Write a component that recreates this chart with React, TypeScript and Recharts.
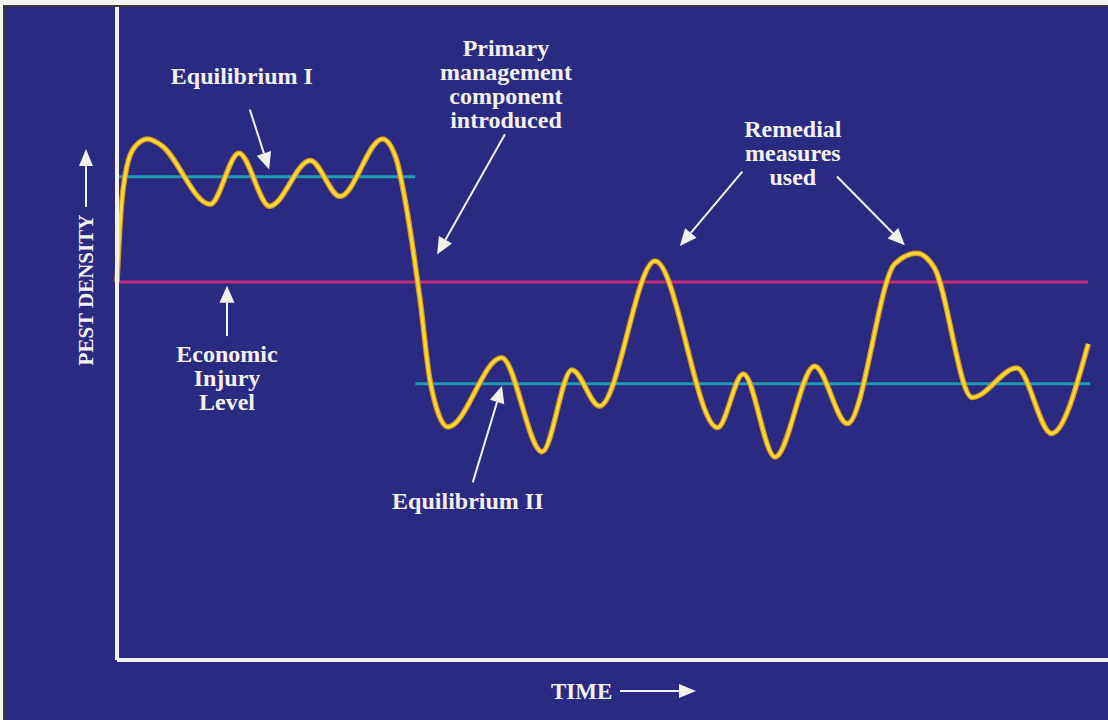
import React from "react";
import {
  ComposedChart,
  Line,
  XAxis,
  YAxis,
  ReferenceLine,
  ReferenceDot,
  Label,
} from "recharts";

// ---- data (time: 0-100, pest density: 0-100) ----
const TIME = [
  0, 0.4, 1.0, 1.8, 3.1, 4.4, 9.4, 12.3, 15.4, 19.5, 22.5, 26.8, 28.1, 29.1,
  29.9, 30.6, 31.6, 33.4, 38.8, 42.9, 45.9, 48.7, 54.3, 60.6, 63.2, 66.4, 70.4,
  73.7, 78.5, 80.7, 82.5, 86.3, 90.8, 94.3, 98.0,
];
const DENSITY = [
  57.9, 68.7, 75.6, 78.6, 79.8, 78.9, 69.8, 77.6, 69.5, 76.5, 71.0, 79.8, 77.1,
  70.2, 62.6, 55.0, 42.7, 35.7, 46.3, 31.9, 44.4, 38.9, 61.1, 35.6, 43.8, 31.1,
  45.0, 36.2, 60.7, 62.3, 60.0, 40.2, 44.7, 34.7, 48.4,
];

const EQ1_TIME = [0, 30.1];
const EQ1_LEVEL = 74;
const EQ2_TIME = [30.1, 98.2];
const EQ2_LEVEL = 42.3;
const EIL_TIME = [0, 98.0];
const EIL_LEVEL = 57.9;

const pestData = TIME.map((t, i) => ({ t, d: DENSITY[i] }));
const eq1Data = EQ1_TIME.map((t) => ({ t, d: EQ1_LEVEL }));
const eq2Data = EQ2_TIME.map((t) => ({ t, d: EQ2_LEVEL }));
const eilData = EIL_TIME.map((t) => ({ t, d: EIL_LEVEL }));

// annotations: [time, density, lines]
const NOTES: { t: number; d: number; lines: string[] }[] = [
  { t: 12.6, d: 88.2, lines: ["Equilibrium I"] },
  { t: 39.25, d: 92.5, lines: ["Primary", "management", "component", "introduced"] },
  { t: 68.2, d: 80.15, lines: ["Remedial", "measures", "used"] },
  { t: 11.1, d: 45.65, lines: ["Economic", "Injury", "Level"] },
  { t: 35.4, d: 23.2, lines: ["Equilibrium II"] },
];

// arrows: from (t,d) to tip (t,d)
const ARROWS: [number, number, number, number][] = [
  [13.4, 84.3, 15.35, 75.1],
  [11.1, 49.6, 11.1, 57.3],
  [39.15, 80.5, 32.3, 62.1],
  [63.1, 74.8, 56.8, 63.4],
  [72.65, 74.05, 79.5, 63.5],
  [35.9, 27.2, 38.85, 42.0],
];

const WHITE = "#f3f1ec";
const FONT = "'Liberation Serif', 'Times New Roman', serif";

const arrowShape = (p: any) => {
  const { x1, y1, x2, y2 } = p;
  const dx = x2 - x1;
  const dy = y2 - y1;
  const len = Math.sqrt(dx * dx + dy * dy) || 1;
  const ux = dx / len;
  const uy = dy / len;
  const hl = 17;
  const hw = 7.5;
  const bx = x2 - ux * hl;
  const by = y2 - uy * hl;
  const pts = `${x2},${y2} ${bx - uy * hw},${by + ux * hw} ${bx + uy * hw},${by - ux * hw}`;
  return (
    <g>
      <line x1={x1} y1={y1} x2={bx} y2={by} stroke={WHITE} strokeWidth={2} />
      <polygon points={pts} fill={WHITE} />
    </g>
  );
};

const noteShape = (lines: string[]) => (p: any) => (
  <text
    x={p.cx}
    y={p.cy}
    textAnchor="middle"
    fill={WHITE}
    fontFamily={FONT}
    fontWeight="bold"
    fontSize={24}
  >
    {lines.map((l, i) => (
      <tspan key={i} x={p.cx} dy={i === 0 ? 0 : 24}>
        {l}
      </tspan>
    ))}
  </text>
);

const yTitle = (p: any) => {
  const vb = p.viewBox || {};
  const x = vb.x + 6;
  const cy = 290;
  return (
    <g>
      <text
        x={x}
        y={cy}
        transform={`rotate(-90 ${x} ${cy})`}
        textAnchor="middle"
        fill={WHITE}
        fontFamily={FONT}
        fontWeight="bold"
        fontSize={21}
      >
        PEST DENSITY
      </text>
      <line x1={x - 7} y1={207} x2={x - 7} y2={165} stroke={WHITE} strokeWidth={2} />
      <polygon points={`${x - 7},149 ${x - 14},166 ${x},166`} fill={WHITE} />
    </g>
  );
};

const xTitle = (p: any) => {
  const vb = p.viewBox || {};
  const y = vb.y + 39;
  return (
    <g>
      <text
        x={551}
        y={y}
        fill={WHITE}
        fontFamily={FONT}
        fontWeight="bold"
        fontSize={23}
      >
        TIME
      </text>
      <line x1={620} y1={y - 8} x2={681} y2={y - 8} stroke={WHITE} strokeWidth={2} />
      <polygon points={`${696},${y - 8} ${679},${y - 15} ${679},${y - 1}`} fill={WHITE} />
    </g>
  );
};

export default function App() {
  return (
    <div style={{ position: "absolute", left: 0, top: 0, width: 1108, height: 720, background: "#f4f4f2" }}>
      <div
        style={{
          position: "absolute",
          left: 3,
          top: 5,
          width: 1105,
          height: 715,
          background: "#2a2a82",
          borderTop: "2px solid #3a3a3a",
          borderLeft: "2px solid #3a3a3a",
          boxSizing: "border-box",
        }}
      />
      <div style={{ position: "absolute", left: 0, top: 0 }}>
        <ComposedChart
          width={1108}
          height={720}
          margin={{ top: 7, right: 0, left: 87, bottom: 30 }}
        >
          <XAxis
            dataKey="t"
            type="number"
            domain={[0, 100]}
            tick={false}
            tickLine={false}
            height={30}
            axisLine={{ stroke: WHITE, strokeWidth: 4 }}
          >
            <Label content={xTitle} />
          </XAxis>
          <YAxis
            type="number"
            domain={[0, 100]}
            tick={false}
            tickLine={false}
            width={30}
            axisLine={{ stroke: WHITE, strokeWidth: 4 }}
          >
            <Label content={yTitle} />
          </YAxis>
          <Line data={eq1Data} dataKey="d" type="linear" stroke="#1e9db3" strokeWidth={3} dot={false} isAnimationActive={false} />
          <Line data={eq2Data} dataKey="d" type="linear" stroke="#1e9db3" strokeWidth={3} dot={false} isAnimationActive={false} />
          <Line data={eilData} dataKey="d" type="linear" stroke="#c42a78" strokeWidth={3} dot={false} isAnimationActive={false} />
          <Line data={pestData} dataKey="d" type="monotone" stroke="#d8961c" strokeWidth={5.5} dot={false} isAnimationActive={false} />
          <Line data={pestData} dataKey="d" type="monotone" stroke="#f7d93a" strokeWidth={3} dot={false} isAnimationActive={false} />
          {ARROWS.map((a, i) => (
            <ReferenceLine
              key={`a${i}`}
              segment={[{ x: a[0], y: a[1] }, { x: a[2], y: a[3] }]}
              ifOverflow="visible"
              shape={arrowShape}
            />
          ))}
          {NOTES.map((n, i) => (
            <ReferenceDot
              key={`n${i}`}
              x={n.t}
              y={n.d}
              r={0}
              ifOverflow="visible"
              shape={noteShape(n.lines)}
            />
          ))}
        </ComposedChart>
      </div>
    </div>
  );
}
